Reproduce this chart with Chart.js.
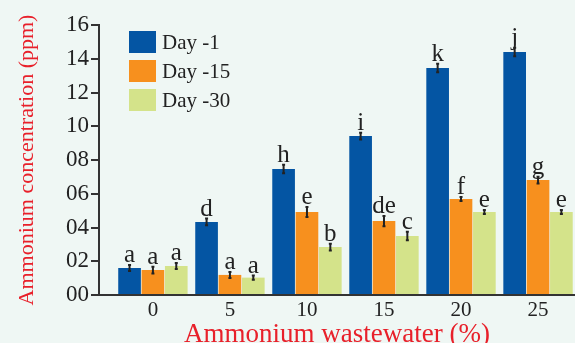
<!DOCTYPE html>
<html>
<head>
<meta charset="utf-8">
<script src="https://cdn.jsdelivr.net/npm/chart.js@4.4.1/dist/chart.umd.min.js"></script>
<style>
  html, body { margin: 0; padding: 0; background: #eff7f4; }
  #wrap { width: 575px; height: 343px; }
</style>
</head>
<body>
<div id="wrap"><canvas id="chart"></canvas></div>
<script>
const CATEGORIES = ["0", "5", "10", "15", "20", "25"];
const Y_TICKS = ["00", "02", "04", "06", "08", "10", "12", "14", "16"];

const DAY1 = [1.6, 4.33, 7.47, 9.42, 13.45, 14.4];
const DAY15 = [1.48, 1.19, 4.92, 4.38, 5.69, 6.81];
const DAY30 = [1.72, 1.03, 2.84, 3.5, 4.92, 4.92];

const DAY1_ERR = [0.18, 0.2, 0.25, 0.2, 0.25, 0.25];
const DAY15_ERR = [0.2, 0.18, 0.3, 0.3, 0.12, 0.2];
const DAY30_ERR = [0.18, 0.12, 0.2, 0.25, 0.12, 0.12];

const DAY1_LETTERS = ["a", "d", "h", "i", "k", "j"];
const DAY15_LETTERS = ["a", "a", "e", "de", "f", "g"];
const DAY30_LETTERS = ["a", "a", "b", "c", "e", "e"];

const SERIF = '"Liberation Serif", "DejaVu Serif", serif';
const RED = "#e8202a";
const INK = "#222";

function toPoints(values) {
  return values.map((v, i) => ({ x: i, y: v }));
}

const datasets = [
  { label: "Day -1", data: toPoints(DAY1), backgroundColor: "#0455a3", err: DAY1_ERR, letters: DAY1_LETTERS },
  { label: "Day -15", data: toPoints(DAY15), backgroundColor: "#f7901e", err: DAY15_ERR, letters: DAY15_LETTERS },
  { label: "Day -30", data: toPoints(DAY30), backgroundColor: "#d4e38a", err: DAY30_ERR, letters: DAY30_LETTERS },
].map((d) => ({ ...d, borderWidth: 0, barPercentage: 0.97, categoryPercentage: 0.91 }));

// error bars + significance letters
const errorBarPlugin = {
  id: "errorBars",
  afterDatasetsDraw(chart) {
    const { ctx, scales } = chart;
    ctx.save();
    chart.data.datasets.forEach((ds, di) => {
      const meta = chart.getDatasetMeta(di);
      meta.data.forEach((bar, i) => {
        const v = ds.data[i].y;
        const e = ds.err[i];
        const top = scales.y.getPixelForValue(v + e);
        const bot = scales.y.getPixelForValue(v - e);
        ctx.strokeStyle = INK;
        ctx.lineWidth = 2;
        ctx.beginPath();
        ctx.moveTo(bar.x, top);
        ctx.lineTo(bar.x, bot);
        ctx.moveTo(bar.x - 1.5, top);
        ctx.lineTo(bar.x + 1.5, top);
        ctx.moveTo(bar.x - 1.5, bot);
        ctx.lineTo(bar.x + 1.5, bot);
        ctx.stroke();
        ctx.fillStyle = INK;
        ctx.font = "25px " + SERIF;
        ctx.textAlign = "center";
        ctx.textBaseline = "alphabetic";
        ctx.fillText(ds.letters[i], bar.x, top - 3);
      });
    });
    ctx.restore();
  },
};

// legend drawn inside the plot area
const insideLegend = {
  id: "insideLegend",
  afterDraw(chart) {
    const { ctx } = chart;
    ctx.save();
    chart.data.datasets.forEach((ds, i) => {
      const y = 31 + i * 29;
      ctx.fillStyle = ds.backgroundColor;
      ctx.fillRect(129, y, 27, 22);
      ctx.fillStyle = INK;
      ctx.font = "21px " + SERIF;
      ctx.textAlign = "left";
      ctx.textBaseline = "middle";
      ctx.fillText(ds.label, 162, y + 12);
    });
    ctx.restore();
  },
};

new Chart(document.getElementById("chart"), {
  type: "bar",
  data: { datasets },
  plugins: [errorBarPlugin, insideLegend],
  options: {
    responsive: true,
    maintainAspectRatio: false,
    animation: false,
    layout: { padding: { top: 25, right: 0, left: 0, bottom: 0 } },
    plugins: { legend: { display: false }, tooltip: { enabled: false } },
    scales: {
      x: {
        type: "linear",
        offset: false,
        min: -0.7,
        max: 5.48,
        afterFit: (s) => { s.height = 48; },
        grid: { display: false, drawTicks: false, tickLength: 0 },
        border: { display: true, color: "#333", width: 2 },
        ticks: {
          stepSize: 1,
          includeBounds: false,
          autoSkip: false,
          maxRotation: 0,
          padding: 3,
          color: INK,
          font: { family: SERIF, size: 21 },
          callback: (v) => (Number.isInteger(v) && v >= 0 ? CATEGORIES[v] : ""),
        },
        title: {
          display: true,
          text: "Ammonium wastewater (%)",
          color: RED,
          padding: { top: 0, bottom: 0 },
          font: { family: SERIF, size: 27, lineHeight: 0.62 },
        },
      },
      y: {
        min: 0,
        max: 16,
        afterFit: (s) => { s.width = 99; },
        grid: { drawOnChartArea: false, drawTicks: true, tickLength: 8, color: "#333", lineWidth: 2 },
        border: { display: true, color: "#333", width: 2 },
        ticks: {
          stepSize: 2,
          padding: 2,
          color: INK,
          font: { family: SERIF, size: 23 },
          callback: (v) => Y_TICKS[v / 2],
        },
        title: {
          display: true,
          text: "Ammonium concentration (ppm)",
          color: RED,
          padding: { top: 14, bottom: 0 },
          font: { family: SERIF, size: 22 },
        },
      },
    },
  },
});
</script>
</body>
</html>
